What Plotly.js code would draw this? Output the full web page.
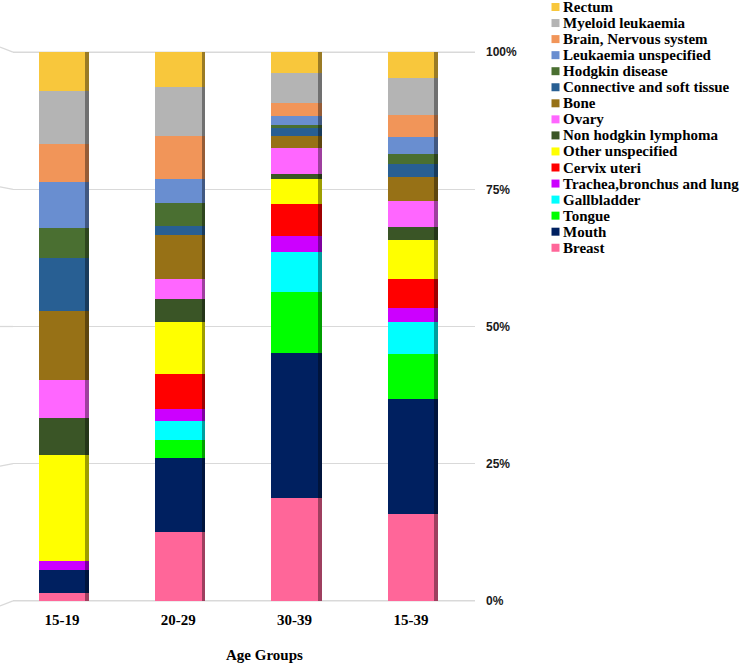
<!DOCTYPE html>
<html>
<head>
<meta charset="utf-8">
<script src="https://cdn.plot.ly/plotly-3.0.1.min.js"></script>
<style>
  html, body { margin: 0; padding: 0; background: #ffffff; }
  #chart { width: 744px; height: 663px; }
</style>
</head>
<body>
<div id="chart"></div>
<script>
// Age groups along the x axis
const ageGroups = ['15-19', '20-29', '30-39', '15-39'];

// Share of cases (%) per cancer site, one value per age group
const breast               = [1.5, 12.6, 18.8, 15.8];
const mouth                = [4.2, 13.5, 26.4, 21.1];
const tongue               = [0.0,  3.2, 11.0,  8.1];
const gallbladder          = [0.0,  3.6,  7.3,  5.8];
const tracheaBronchusLung  = [1.5,  2.2,  3.0,  2.7];
const cervixUteri          = [0.0,  6.4,  5.7,  5.3];
const otherUnspecified     = [19.4, 9.5,  4.6,  7.1];
const nonHodgkinLymphoma   = [6.8,  4.1,  0.9,  2.3];
const ovary                = [6.9,  3.6,  4.8,  4.7];
const bone                 = [12.5, 8.1,  2.1,  4.5];
const connectiveSoftTissue = [9.7,  1.7,  1.4,  2.2];
const hodgkinDisease       = [5.5,  4.1,  0.7,  2.0];
const leukaemiaUnspecified = [8.3,  4.5,  1.6,  3.0];
const brainNervousSystem   = [7.0,  7.7,  2.3,  4.1];
const myeloidLeukaemia     = [9.7,  9.0,  5.5,  6.7];
const rectum               = [7.0,  6.4,  3.8,  4.7];

// Stack order, bottom to top
const siteNames = [
  'Breast', 'Mouth', 'Tongue', 'Gallbladder', 'Trachea,bronchus and lung',
  'Cervix uteri', 'Other unspecified', 'Non hodgkin lymphoma', 'Ovary', 'Bone',
  'Connective and soft tissue', 'Hodgkin disease', 'Leukaemia unspecified',
  'Brain, Nervous system', 'Myeloid leukaemia', 'Rectum'
];
const siteValues = [
  breast, mouth, tongue, gallbladder, tracheaBronchusLung, cervixUteri,
  otherUnspecified, nonHodgkinLymphoma, ovary, bone, connectiveSoftTissue,
  hodgkinDisease, leukaemiaUnspecified, brainNervousSystem, myeloidLeukaemia, rectum
];
const siteColors = [
  '#FF6699', '#002060', '#00FF00', '#00FFFF', '#CC00FF', '#FF0000',
  '#FFFF00', '#3A5526', '#FF66FF', '#977116', '#285F93', '#4A6F31',
  '#698ED0', '#F19559', '#B4B4B4', '#F8C73C'
];
const yTickVals = [0, 25, 50, 75, 100];
const yTickText = ['0%', '25%', '50%', '75%', '100%'];

// ---- page geometry (pixels) ----
const W = 744, H = 663;
const M = { l: 13, r: 269, t: 51, b: 61 };
const plotW = W - M.l - M.r, plotH = H - M.t - M.b;
const px = x => (x - M.l) / plotW;          // page x -> paper x
const py = y => (H - M.b - y) / plotH;      // page y -> paper y

const yRange = [-0.2, 100.2];
const yToPaper = v => (v - yRange[0]) / (yRange[1] - yRange[0]);

const xRange = [-0.42, 3.55];
const depthShift = 0.032;                   // side face offset, category units
const barWidth = 0.4;
const gridStyle = { color: '#D9D9D9', width: 1.3 };

function darken(hex, f) {
  const n = parseInt(hex.slice(1), 16);
  const r = Math.round(((n >> 16) & 255) * f);
  const g = Math.round(((n >> 8) & 255) * f);
  const b = Math.round((n & 255) * f);
  return 'rgb(' + r + ',' + g + ',' + b + ')';
}

const traces = [];
// darker side faces (drawn on the base subplot, behind)
siteNames.forEach((name, i) => {
  traces.push({
    type: 'bar', x: ageGroups, y: siteValues[i], name: name,
    xaxis: 'x', yaxis: 'y', width: barWidth, showlegend: false,
    marker: { color: darken(siteColors[i], 0.62), line: { width: 0 } },
    hoverinfo: 'skip'
  });
});
// front faces
siteNames.forEach((name, i) => {
  traces.push({
    type: 'bar', x: ageGroups, y: siteValues[i], name: name,
    xaxis: 'x2', yaxis: 'y', width: barWidth, showlegend: false,
    marker: { color: siteColors[i], line: { width: 0 } }
  });
});

const shapes = [];
const annotations = [];

// back-wall gridlines at the range ends, plus the slanted ends on the left wall
yTickVals.forEach(v => {
  if (v === yTickVals[0] || v === yTickVals[yTickVals.length - 1]) {
    shapes.push({
      type: 'line', xref: 'paper', yref: 'paper', layer: 'below',
      x0: 0, x1: 1, y0: yToPaper(v), y1: yToPaper(v), line: gridStyle
    });
  }
  shapes.push({
    type: 'line', xref: 'paper', yref: 'paper', layer: 'below',
    x0: px(0), x1: 0,
    y0: yToPaper(v + (v - 50) * 0.018), y1: yToPaper(v),
    line: gridStyle
  });
});

// legend, top to bottom: Rectum ... Breast
const legendTop = 7, legendStep = 16.05;
const legendFont = { family: 'Liberation Serif, Times New Roman, serif', size: 15, color: '#000000', weight: 700 };
for (let k = 0; k < siteNames.length; k++) {
  const i = siteNames.length - 1 - k;
  const yc = legendTop + legendStep * k;
  shapes.push({
    type: 'rect', xref: 'paper', yref: 'paper',
    x0: px(551.5), x1: px(559.5), y0: py(yc + 4), y1: py(yc - 4),
    fillcolor: siteColors[i], line: { width: 0 }
  });
  annotations.push({
    xref: 'paper', yref: 'paper', x: px(561), y: py(yc),
    xanchor: 'left', yanchor: 'middle', showarrow: false,
    text: siteNames[i], font: legendFont
  });
}

// x axis title
annotations.push({
  xref: 'paper', yref: 'paper', x: px(264), y: py(655),
  xanchor: 'center', yanchor: 'middle', showarrow: false,
  text: 'Age Groups',
  font: { family: 'Liberation Serif, Times New Roman, serif', size: 15, color: '#000000', weight: 700 }
});

const layout = {
  width: W, height: H,
  margin: { l: M.l, r: M.r, t: M.t, b: M.b, autoexpand: false },
  paper_bgcolor: '#ffffff', plot_bgcolor: '#ffffff',
  barmode: 'stack', barnorm: 'percent',
  showlegend: false,
  xaxis: {
    type: 'category', range: [xRange[0] - depthShift, xRange[1] - depthShift],
    showgrid: false, zeroline: false, showline: false, showticklabels: false, ticks: ''
  },
  xaxis2: {
    type: 'category', overlaying: 'x', side: 'bottom', range: xRange,
    showgrid: false, zeroline: false, showline: false, ticks: '',
    ticklabelstandoff: 7,
    tickfont: { family: 'Liberation Serif, Times New Roman, serif', size: 15, color: '#000000', weight: 700 }
  },
  yaxis: {
    range: yRange, side: 'right', tickvals: yTickVals, ticktext: yTickText,
    showgrid: true, gridcolor: gridStyle.color, gridwidth: gridStyle.width,
    zeroline: false, showline: false, ticks: '', ticklabelstandoff: 10,
    tickfont: { family: 'Liberation Sans, Arial, sans-serif', size: 12, color: '#1a1a1a', weight: 700 }
  },
  shapes: shapes,
  annotations: annotations
};

Plotly.newPlot('chart', traces, layout, { displayModeBar: false, responsive: false });
</script>
</body>
</html>
